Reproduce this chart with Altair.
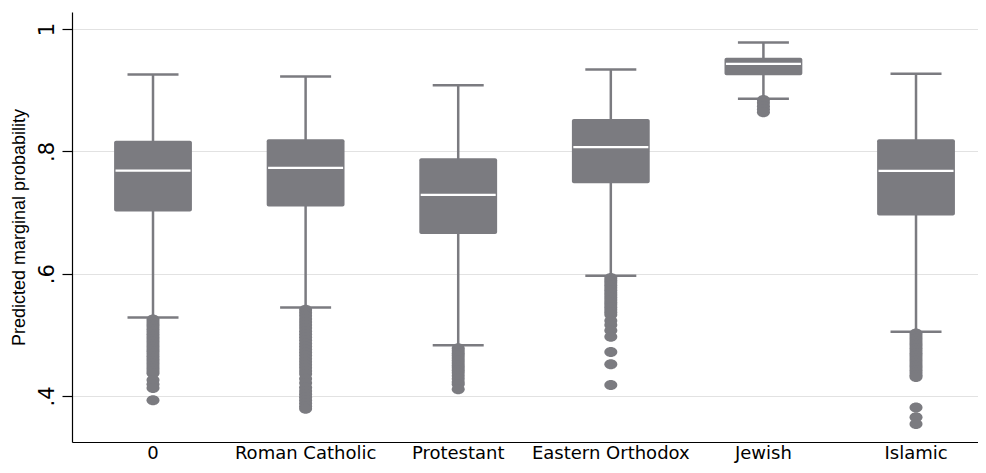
import altair as alt
import pandas as pd

categories = ["0", "Roman Catholic", "Protestant", "Eastern Orthodox", "Jewish", "Islamic"]
lower_whisker = [0.5285, 0.5447, 0.4829, 0.5967, 0.886, 0.505]
q1 = [0.7018, 0.7097, 0.665, 0.748, 0.9246, 0.695]
median = [0.7685, 0.773, 0.729, 0.807, 0.943, 0.768]
q3 = [0.8173, 0.820, 0.789, 0.853, 0.953, 0.820]
upper_whisker = [0.9257, 0.9224, 0.908, 0.934, 0.978, 0.927]

outliers_0 = [0.525, 0.521, 0.517, 0.513, 0.509, 0.505, 0.501, 0.497, 0.493, 0.489,
              0.485, 0.481, 0.477, 0.473, 0.469, 0.465, 0.461, 0.457, 0.453, 0.449,
              0.445, 0.441, 0.437, 0.426, 0.419, 0.413, 0.393]
outliers_rc = [0.541, 0.536, 0.531, 0.526, 0.521, 0.516, 0.511, 0.506, 0.501, 0.496,
               0.491, 0.486, 0.481, 0.476, 0.471, 0.466, 0.461, 0.456, 0.451, 0.446,
               0.441, 0.436, 0.428, 0.421, 0.414, 0.408, 0.403, 0.398, 0.393, 0.388,
               0.383, 0.379]
outliers_prot = [0.478, 0.474, 0.470, 0.466, 0.462, 0.458, 0.454, 0.450, 0.446, 0.442,
                 0.438, 0.433, 0.428, 0.423, 0.419, 0.411]
outliers_eo = [0.593, 0.589, 0.585, 0.581, 0.577, 0.573, 0.569, 0.565, 0.561, 0.557,
               0.553, 0.549, 0.545, 0.541, 0.537, 0.533, 0.523, 0.516, 0.507, 0.497,
               0.472, 0.452, 0.418]
outliers_jew = [0.884, 0.879, 0.874, 0.869, 0.864]
outliers_isl = [0.502, 0.498, 0.494, 0.490, 0.486, 0.482, 0.478, 0.474, 0.470, 0.466,
                0.462, 0.458, 0.454, 0.450, 0.446, 0.442, 0.438, 0.434, 0.431,
                0.381, 0.365, 0.354]
outliers = [outliers_0, outliers_rc, outliers_prot, outliers_eo, outliers_jew, outliers_isl]

y_ticks = [0.4, 0.6, 0.8, 1.0]

GRAY = "#7b7b80"
PLOT_H = 430

summary = pd.DataFrame({
    "cat": categories,
    "lw": lower_whisker,
    "q1": q1,
    "median": median,
    "q3": q3,
    "uw": upper_whisker,
})
out_df = pd.DataFrame(
    [{"cat": c, "value": v} for c, vals in zip(categories, outliers) for v in vals]
)

x_enc = alt.X(
    "cat:N",
    sort=categories,
    scale=alt.Scale(paddingInner=0.49, paddingOuter=0.2135, align=0.646),
    axis=alt.Axis(
        title=None, labelAngle=0, ticks=False, labelPadding=2,
        labelFont="DejaVu Sans", labelFontSize=18, labelColor="black",
        domainColor="black", domainWidth=1.2, grid=False, labelOverlap=False,
    ),
)

y_scale = alt.Scale(domain=[0.3247, 1.028], nice=False, zero=False)
y_axis = alt.Axis(
    title="Predicted marginal probability",
    values=y_ticks,
    labelExpr="datum.value >= 1 ? '1' : replace(format(datum.value, '.1f'), '0.', '.')",
    labelAngle=270, labelAlign="center", labelBaseline="alphabetic",
    labelPadding=9, labelFont="DejaVu Sans", labelFontSize=21, labelColor="black",
    tickSize=10, tickColor="black", tickWidth=1.2,
    domainColor="black", domainWidth=1.2,
    grid=True, gridColor="#e2e2e2", gridWidth=1.2,
    titleFont="Liberation Sans", titleFontSize=18, titleFontWeight="normal",
    titleColor="black", titleAngle=270, titleAlign="center", titleBaseline="middle",
    titleX=-53, titleY=PLOT_H / 2,
)

base = alt.Chart(summary)

whisk = base.mark_rule(color=GRAY, strokeWidth=2.5, opacity=1).encode(
    x=x_enc, y=alt.Y("lw:Q", scale=y_scale, axis=y_axis), y2="uw:Q"
)
box = base.mark_bar(color=GRAY, cornerRadius=2, opacity=1).encode(
    x=x_enc, y=alt.Y("q1:Q", scale=y_scale, axis=y_axis), y2="q3:Q"
)
cap_lo = base.mark_tick(color=GRAY, size=51, thickness=2.5, orient="horizontal", opacity=1).encode(
    x=x_enc, y=alt.Y("lw:Q", scale=y_scale, axis=y_axis)
)
cap_hi = base.mark_tick(color=GRAY, size=51, thickness=2.5, orient="horizontal", opacity=1).encode(
    x=x_enc, y=alt.Y("uw:Q", scale=y_scale, axis=y_axis)
)
med = base.mark_tick(color="white", size=75, thickness=2.2, orient="horizontal", opacity=1).encode(
    x=x_enc, y=alt.Y("median:Q", scale=y_scale, axis=y_axis)
)
ellipse = "M -1 0 A 1 0.77 0 1 1 1 0 A 1 0.77 0 1 1 -1 0 Z"
pts = alt.Chart(out_df).mark_point(
    filled=True, shape=ellipse, size=169, color=GRAY, opacity=1
).encode(
    x=x_enc, y=alt.Y("value:Q", scale=y_scale, axis=y_axis)
)

chart = alt.layer(whisk, box, cap_lo, cap_hi, med, pts).properties(
    width=906,
    height=PLOT_H,
    padding={"left": 64, "top": 4, "right": 0, "bottom": 23},
    autosize=alt.AutoSizeParams(type="none"),
    background="white",
).configure_view(stroke=None)

chart.save("out.html", embed_options={"renderer": "svg", "actions": False})
